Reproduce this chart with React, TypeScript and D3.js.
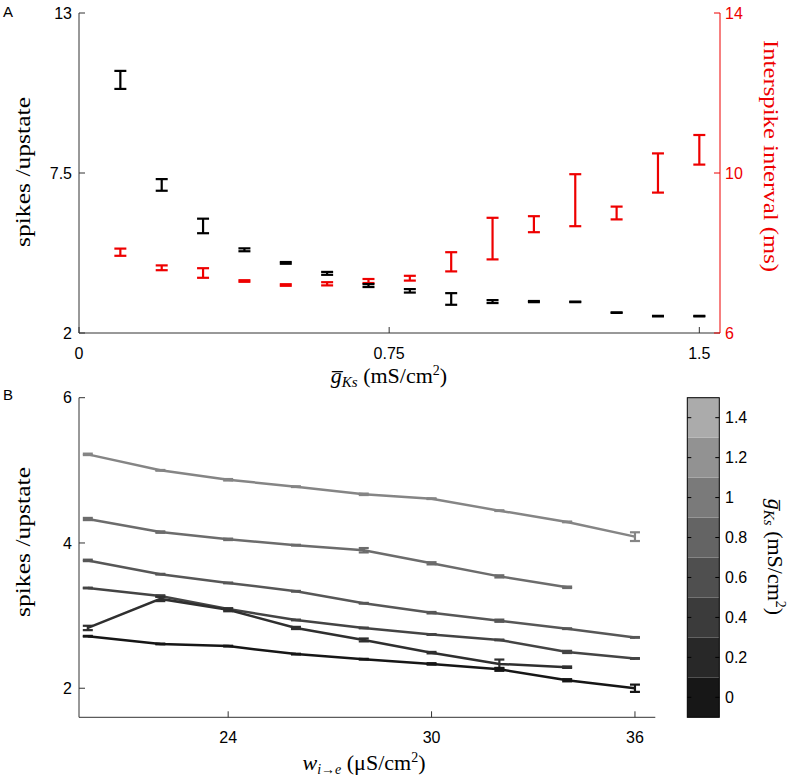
import React from 'react';
import * as d3 from 'd3';

// ---------- Panel A data ----------
const gKsValues = [0.1, 0.2, 0.3, 0.4, 0.5, 0.6, 0.7, 0.8, 0.9, 1.0, 1.1, 1.2, 1.3, 1.4, 1.5];
const spikesMean = [10.7, 7.09, 5.68, 4.86, 4.41, 4.05, 3.63, 3.45, 3.17, 3.08, 3.08, 3.07, 2.7, 2.58, 2.58];
const spikesErr = [0.31, 0.2, 0.25, 0.05, 0.03, 0.05, 0.05, 0.06, 0.2, 0.05, 0.02, 0.01, 0.01, 0.01, 0.01];
const isiMean = [8.02, 7.63, 7.5, 7.3, 7.2, 7.23, 7.3, 7.37, 7.78, 8.36, 8.72, 9.32, 9.0, 10.0, 10.58];
const isiErr = [0.09, 0.06, 0.12, 0.02, 0.02, 0.04, 0.05, 0.06, 0.24, 0.52, 0.2, 0.65, 0.16, 0.49, 0.37];
const aLeftTicks = [2, 7.5, 13];
const aRightTicks = [6, 10, 14];
const aXTicks = [0, 0.75, 1.5];

// ---------- Panel B data ----------
const wValues = [19.86, 22, 24, 26, 28, 30, 32, 34, 36];
const lineGks = [1.0, 0.8, 0.6, 0.4, 0.2, 0.0];
const meanG10 = [5.22, 5.0, 4.87, 4.775, 4.67, 4.61, 4.445, 4.29, 4.087];
const errG10 = [0.01, 0.005, 0.01, 0.005, 0.01, 0.005, 0.005, 0.005, 0.06];
const meanG08 = [4.33, 4.15, 4.05, 3.97, 3.9, 3.72, 3.54, 3.39];
const errG08 = [0.015, 0.01, 0.01, 0.005, 0.03, 0.015, 0.015, 0.01];
const meanG06 = [3.76, 3.57, 3.45, 3.335, 3.17, 3.04, 2.93, 2.82, 2.7];
const errG06 = [0.01, 0.005, 0.005, 0.005, 0.005, 0.01, 0.015, 0.005, 0.005];
const meanG04 = [3.38, 3.27, 3.09, 2.94, 2.83, 2.74, 2.665, 2.5, 2.41];
const errG04 = [0.005, 0.01, 0.01, 0.005, 0.005, 0.005, 0.005, 0.015, 0.005];
const meanG02 = [2.83, 3.23, 3.08, 2.83, 2.665, 2.49, 2.335, 2.29];
const errG02 = [0.03, 0.03, 0.02, 0.015, 0.02, 0.01, 0.06, 0.01];
const meanG00 = [2.716, 2.61, 2.58, 2.47, 2.4, 2.335, 2.26, 2.11, 2.0];
const errG00 = [0.005, 0.005, 0.005, 0.005, 0.005, 0.01, 0.02, 0.015, 0.05];
const lineMeans = [meanG10, meanG08, meanG06, meanG04, meanG02, meanG00];
const lineErrs = [errG10, errG08, errG06, errG04, errG02, errG00];
const bYTicks = [2, 4, 6];
const bXTicks = [24, 30, 36];

// ---------- Colorbar ----------
const cbLevels = [0, 0.2, 0.4, 0.6, 0.8, 1.0, 1.2, 1.4];
const cbLabels = ['0', '0.2', '0.4', '0.6', '0.8', '1', '1.2', '1.4'];
const cbColors = ['#171717', '#282828', '#3b3b3b', '#4f4f4f', '#646464', '#7a7a7a', '#929292', '#ababab'];
const lineColors = ['#858585', '#6c6c6c', '#575757', '#444444', '#2f2f2f', '#161616'];

const SANS = 'Liberation Sans, Arial, sans-serif';
const SERIF = 'Liberation Serif, Times New Roman, serif';

type EBProps = { x: number; y0: number; y1: number; w: number; color: string; sw: number };
const ErrorBar = ({ x, y0, y1, w, color, sw }: EBProps) => (
  <g stroke={color} strokeWidth={sw} fill="none">
    <line x1={x} x2={x} y1={y0} y2={y1} />
    <line x1={x - w / 2} x2={x + w / 2} y1={y0} y2={y0} />
    <line x1={x - w / 2} x2={x + w / 2} y1={y1} y2={y1} />
  </g>
);

export default function App() {
  // Panel A scales
  const xA = d3.scaleLinear().domain([0, 1.55]).range([79, 720]);
  const yA = d3.scaleLinear().domain([2, 13]).range([333, 13]);
  const yA2 = d3.scaleLinear().domain([6, 14]).range([333, 13]);
  // Panel B scales
  const xB = d3.scaleLinear().domain([19.6, 36.6]).range([79, 655.3]);
  const yB = d3.scaleLinear().domain([1.6, 6]).range([717.3, 397.7]);
  const yC = d3.scaleLinear().domain([-0.1, 1.5]).range([717.3, 397.7]);
  const cbX0 = 687.3;
  const cbX1 = 719.3;

  const lineGen = d3
    .line<[number, number]>()
    .x((d) => xB(d[0]))
    .y((d) => yB(d[1]));

  const axisColor = '#333';

  return (
    <svg
      width={791}
      height={779}
      style={{ position: 'absolute', left: 0, top: 0, background: '#fff' }}
      fontFamily={SANS}
    >
      <rect x={0} y={0} width={791} height={779} fill="#fff" />
      {/* Panel labels */}
      <text x={3} y={17} fontSize={15} fontFamily={SANS}>A</text>
      <text x={3} y={400} fontSize={15} fontFamily={SANS}>B</text>

      {/* ===== Panel A ===== */}
      <line x1={79} x2={79} y1={yA(13)} y2={yA(2)} stroke={axisColor} />
      <line x1={79} x2={720} y1={333} y2={333} stroke={axisColor} />
      <line x1={720} x2={720} y1={yA2(14)} y2={yA2(6)} stroke="#e00" />
      {aLeftTicks.map((t) => (
        <g key={'al' + t}>
          <line x1={79} x2={85} y1={yA(t)} y2={yA(t)} stroke={axisColor} />
          <text x={72} y={yA(t)} dy="0.35em" textAnchor="end" fontSize={16}>{t}</text>
        </g>
      ))}
      {aRightTicks.map((t) => (
        <g key={'ar' + t}>
          <line x1={714} x2={720} y1={yA2(t)} y2={yA2(t)} stroke="#e00" />
          <text x={725} y={yA2(t)} dy="0.4em" textAnchor="start" fontSize={16} fill="#e00">{t}</text>
        </g>
      ))}
      {aXTicks.map((t) => (
        <g key={'ax' + t}>
          <line x1={xA(t)} x2={xA(t)} y1={333} y2={327} stroke={axisColor} />
          <text x={xA(t)} y={359} textAnchor="middle" fontSize={16}>{t}</text>
        </g>
      ))}
      {gKsValues.map((g, i) => (
        <ErrorBar key={'isi' + i} x={xA(g)} y0={yA2(isiMean[i] - isiErr[i])} y1={yA2(isiMean[i] + isiErr[i])} w={12} color="#e00" sw={2.2} />
      ))}
      {gKsValues.map((g, i) => (
        <ErrorBar key={'sp' + i} x={xA(g)} y0={yA(spikesMean[i] - spikesErr[i])} y1={yA(spikesMean[i] + spikesErr[i])} w={12} color="#000" sw={2.2} />
      ))}
      <text transform="translate(30,172) rotate(-90)" textAnchor="middle" fontSize={22} fontFamily={SERIF} textLength={150} lengthAdjust="spacingAndGlyphs">
        spikes /upstate
      </text>
      <text transform="translate(764,156) rotate(90)" textAnchor="middle" fontSize={22} fontFamily={SERIF} fill="#e00" textLength={232} lengthAdjust="spacingAndGlyphs">
        Interspike interval (ms)
      </text>
      <text x={389} y={383} textAnchor="middle" fontSize={22} fontFamily={SERIF}>
        <tspan fontStyle="italic">g̅</tspan>
        <tspan fontStyle="italic" fontSize={15} dy={4}>Ks</tspan>
        <tspan dy={-4}> (mS/cm</tspan>
        <tspan fontSize={14} dy={-8}>2</tspan>
        <tspan dy={8}>)</tspan>
      </text>

      {/* ===== Panel B ===== */}
      <line x1={79} x2={79} y1={yB(6)} y2={717.3} stroke={axisColor} />
      <line x1={79} x2={655.3} y1={717.3} y2={717.3} stroke={axisColor} />
      {bYTicks.map((t) => (
        <g key={'by' + t}>
          <line x1={79} x2={85} y1={yB(t)} y2={yB(t)} stroke={axisColor} />
          <text x={72} y={yB(t)} dy="0.35em" textAnchor="end" fontSize={16}>{t}</text>
        </g>
      ))}
      {bXTicks.map((t) => (
        <g key={'bx' + t}>
          <line x1={xB(t)} x2={xB(t)} y1={717.3} y2={711.3} stroke={axisColor} />
          <text x={xB(t)} y={743} textAnchor="middle" fontSize={16}>{t}</text>
        </g>
      ))}
      {lineMeans.map((means, li) => {
        const pts: [number, number][] = means.map((m, i) => [wValues[i], m]);
        return (
          <g key={'line' + li}>
            <path d={lineGen(pts) || ''} fill="none" stroke={lineColors[li]} strokeWidth={2.5} />
            {means.map((m, i) => (
              <ErrorBar key={i} x={xB(wValues[i])} y0={yB(m - lineErrs[li][i])} y1={yB(m + lineErrs[li][i])} w={10} color={lineColors[li]} sw={2.2} />
            ))}
          </g>
        );
      })}
      <text transform="translate(30,542) rotate(-90)" textAnchor="middle" fontSize={22} fontFamily={SERIF} textLength={150} lengthAdjust="spacingAndGlyphs">
        spikes /upstate
      </text>
      <text x={364} y={770} textAnchor="middle" fontSize={22} fontFamily={SERIF}>
        <tspan fontStyle="italic">w</tspan>
        <tspan fontStyle="italic" fontSize={14} dy={4}>i→e</tspan>
        <tspan dy={-4}> (μS/cm</tspan>
        <tspan fontSize={14} dy={-8}>2</tspan>
        <tspan dy={8}>)</tspan>
      </text>

      {/* ===== Colorbar ===== */}
      {cbLevels.map((lv, i) => (
        <rect key={'cb' + i} x={cbX0} y={yC(lv + 0.1)} width={cbX1 - cbX0} height={yC(lv - 0.1) - yC(lv + 0.1)} fill={cbColors[i]} />
      ))}
      <rect x={cbX0} y={yC(1.5)} width={cbX1 - cbX0} height={yC(-0.1) - yC(1.5)} fill="none" stroke="#000" />
      {cbLevels.map((lv, i) => (
        <g key={'cbt' + i}>
          <line x1={cbX0} x2={cbX0 + 4} y1={yC(lv)} y2={yC(lv)} stroke="#000" />
          <line x1={cbX1 - 4} x2={cbX1} y1={yC(lv)} y2={yC(lv)} stroke="#000" />
          <text x={725} y={yC(lv)} dy="0.35em" fontSize={16}>{cbLabels[i]}</text>
        </g>
      ))}
      <text transform="translate(768,557) rotate(90)" textAnchor="middle" fontSize={22} fontFamily={SERIF}>
        <tspan fontStyle="italic">g̅</tspan>
        <tspan fontStyle="italic" fontSize={15} dy={4}>Ks</tspan>
        <tspan dy={-4}> (mS/cm</tspan>
        <tspan fontSize={14} dy={-8}>2</tspan>
        <tspan dy={8}>)</tspan>
      </text>
    </svg>
  );
}
